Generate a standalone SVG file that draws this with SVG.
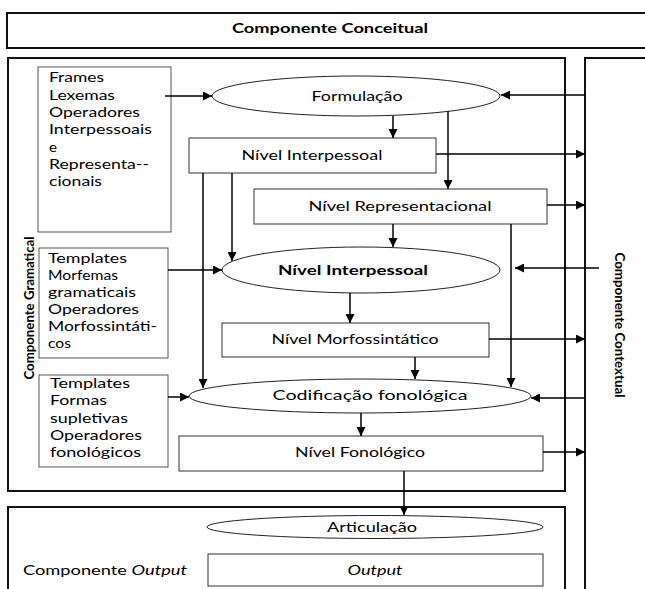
<svg xmlns="http://www.w3.org/2000/svg" width="645" height="589" viewBox="0 0 645 589">
<style>
text{font-family:Lato,"DejaVu Sans",sans-serif;font-size:14px;fill:#000}
.c{text-anchor:middle}
.b{font-weight:bold}
.big{fill:#fff;stroke:#111;stroke-width:2}
.box{fill:#fff;stroke:#333;stroke-width:1}
.src{fill:#fff;stroke:#555;stroke-width:1}
.ell{fill:#fff;stroke:#222;stroke-width:1}
.la{fill:none;stroke:#000;stroke-width:1.5;marker-end:url(#ah)}
</style>
<defs>
<marker id="ah" viewBox="0 0 10 10" refX="10" refY="5" markerWidth="9" markerHeight="9" markerUnits="userSpaceOnUse" orient="auto"><path d="M0,0 L10,5 L0,10 z" fill="#000"/></marker>
</defs>
<rect width="645" height="589" fill="#fff"/>

<g id="conceitual">
<rect class="big" x="7" y="13" width="645" height="35"/>
<text class="c b" x="330" y="33" textLength="196" lengthAdjust="spacingAndGlyphs">Componente Conceitual</text>
</g>

<g id="gramatical">
<rect class="big" x="8" y="58" width="557" height="433"/>
<text class="c b" transform="translate(28,308) rotate(-90)" dominant-baseline="central" textLength="143" lengthAdjust="spacingAndGlyphs">Componente Gramatical</text>
</g>

<g id="contextual">
<rect class="big" x="585" y="58" width="70" height="540"/>
<text class="c b" transform="translate(620,325) rotate(90)" dominant-baseline="central" textLength="145" lengthAdjust="spacingAndGlyphs">Componente Contextual</text>
</g>

<g id="outputComp">
<rect class="big" x="8" y="507" width="557" height="90"/>
<text x="23" y="575" textLength="164" lengthAdjust="spacingAndGlyphs">Componente <tspan font-style="italic">Output</tspan></text>
</g>

<g id="frames">
<rect class="src" x="38" y="67" width="133" height="165"/>
<text x="49" y="82" textLength="55" lengthAdjust="spacingAndGlyphs">Frames</text>
<text x="49" y="99.5" textLength="66" lengthAdjust="spacingAndGlyphs">Lexemas</text>
<text x="49" y="117" textLength="91" lengthAdjust="spacingAndGlyphs">Operadores</text>
<text x="49" y="134" textLength="103" lengthAdjust="spacingAndGlyphs">Interpessoais</text>
<text x="49" y="151.5" textLength="8" lengthAdjust="spacingAndGlyphs">e</text>
<text x="49" y="169" textLength="100" lengthAdjust="spacingAndGlyphs">Representa--</text>
<text x="49" y="186" textLength="53" lengthAdjust="spacingAndGlyphs">cionais</text>
</g>

<g id="templates1">
<rect class="src" x="39" y="248" width="129" height="110"/>
<text x="48" y="263" textLength="79" lengthAdjust="spacingAndGlyphs">Templates</text>
<text x="48" y="280" textLength="70" lengthAdjust="spacingAndGlyphs">Morfemas</text>
<text x="48" y="297" textLength="88" lengthAdjust="spacingAndGlyphs">gramaticais</text>
<text x="48" y="314" textLength="91" lengthAdjust="spacingAndGlyphs">Operadores</text>
<text x="48" y="331" textLength="109" lengthAdjust="spacingAndGlyphs">Morfossintáti-</text>
<text x="48" y="348" textLength="23" lengthAdjust="spacingAndGlyphs">cos</text>
</g>

<g id="templates2">
<rect class="src" x="39" y="375" width="129" height="92"/>
<text x="50" y="388" textLength="80" lengthAdjust="spacingAndGlyphs">Templates</text>
<text x="50" y="405" textLength="57" lengthAdjust="spacingAndGlyphs">Formas</text>
<text x="50" y="422.5" textLength="78" lengthAdjust="spacingAndGlyphs">supletivas</text>
<text x="50" y="440" textLength="92" lengthAdjust="spacingAndGlyphs">Operadores</text>
<text x="50" y="457" textLength="91" lengthAdjust="spacingAndGlyphs">fonológicos</text>
</g>

<g id="formulacao">
<ellipse class="ell" cx="356" cy="96" rx="144" ry="20"/>
<text class="c" x="357" y="101" textLength="91" lengthAdjust="spacingAndGlyphs">Formulação</text>
</g>

<g id="nivelInterpessoal">
<rect class="box" x="189" y="138" width="247" height="35"/>
<text class="c" x="312" y="160" textLength="141" lengthAdjust="spacingAndGlyphs">Nível Interpessoal</text>
</g>

<g id="nivelRepresentacional">
<rect class="box" x="254" y="189" width="293" height="35"/>
<text class="c" x="400" y="211" textLength="183" lengthAdjust="spacingAndGlyphs">Nível Representacional</text>
</g>

<g id="codInterpessoal">
<ellipse class="ell" cx="361" cy="270" rx="139" ry="23"/>
<text class="c b" x="353" y="275" textLength="150" lengthAdjust="spacingAndGlyphs">Nível Interpessoal</text>
</g>

<g id="nivelMorfossintatico">
<rect class="box" x="222" y="323" width="267" height="34"/>
<text class="c" x="355" y="344" textLength="167" lengthAdjust="spacingAndGlyphs">Nível Morfossintático</text>
</g>

<g id="codFonologica">
<ellipse class="ell" cx="360" cy="396" rx="171" ry="17"/>
<text class="c" x="370" y="400" textLength="195" lengthAdjust="spacingAndGlyphs">Codificação fonológica</text>
</g>

<g id="nivelFonologico">
<rect class="box" x="179" y="436" width="364" height="35"/>
<text class="c" x="360" y="457" textLength="130" lengthAdjust="spacingAndGlyphs">Nível Fonológico</text>
</g>

<g id="articulacao">
<ellipse class="ell" cx="375" cy="527" rx="168" ry="11.5"/>
<text class="c" x="372" y="532" textLength="90" lengthAdjust="spacingAndGlyphs">Articulação</text>
</g>

<g id="output">
<rect class="box" x="208" y="554" width="335" height="32"/>
<text class="c" x="375" y="575" font-style="italic" textLength="55" lengthAdjust="spacingAndGlyphs">Output</text>
</g>

<g id="connectors">
<line class="la" x1="165" y1="96" x2="212" y2="96"/>
<line class="la" x1="585" y1="95" x2="501" y2="95"/>
<line class="la" x1="393" y1="116" x2="393" y2="138"/>
<line class="la" x1="448" y1="111" x2="448" y2="189"/>
<line class="la" x1="436" y1="154" x2="585" y2="154"/>
<line class="la" x1="547" y1="205" x2="585" y2="205"/>
<line class="la" x1="393" y1="224" x2="393" y2="247"/>
<line class="la" x1="232" y1="173" x2="232" y2="261"/>
<line class="la" x1="203" y1="173" x2="203" y2="388"/>
<line class="la" x1="511" y1="224" x2="511" y2="387"/>
<line class="la" x1="168" y1="270" x2="222" y2="270"/>
<line class="la" x1="599" y1="268" x2="515" y2="268"/>
<line class="la" x1="350" y1="293" x2="350" y2="323"/>
<line class="la" x1="489" y1="339" x2="585" y2="339"/>
<line class="la" x1="415" y1="357" x2="415" y2="379"/>
<line class="la" x1="168" y1="397" x2="189" y2="397"/>
<line class="la" x1="584" y1="398" x2="531" y2="398"/>
<line class="la" x1="361" y1="413" x2="361" y2="436"/>
<line class="la" x1="543" y1="452" x2="585" y2="452"/>
<line class="la" x1="404" y1="471" x2="404" y2="515"/>
</g>
</svg>
